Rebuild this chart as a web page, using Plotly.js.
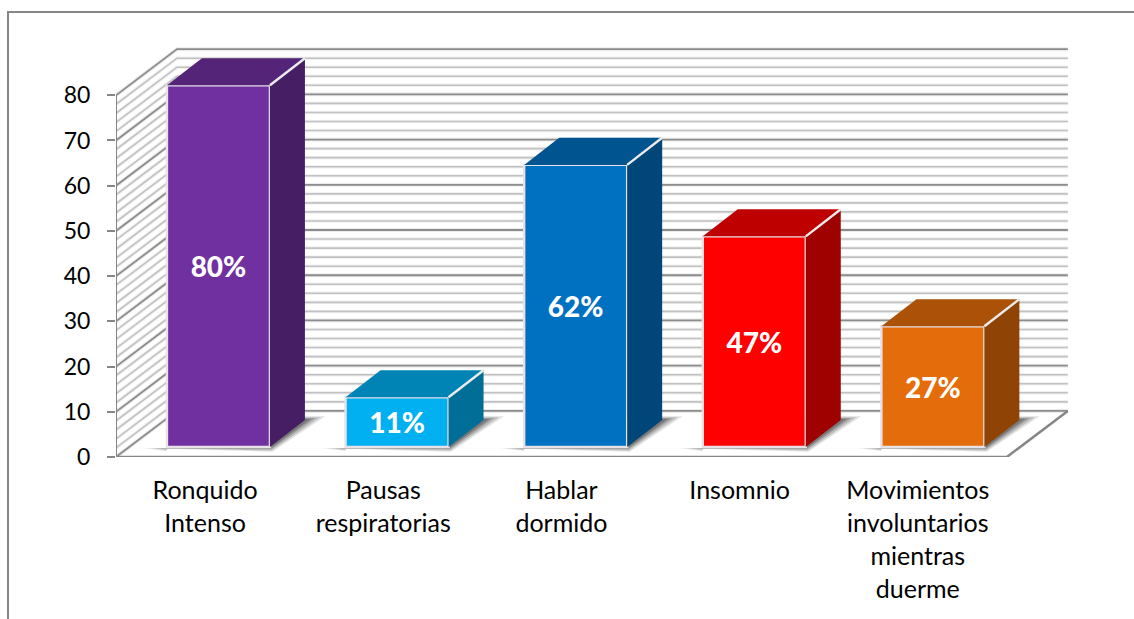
<!DOCTYPE html>
<html><head><meta charset="utf-8">
<script src="https://cdn.plot.ly/plotly-3.0.1.min.js"></script>
<style>html,body{margin:0;padding:0;background:#fff;overflow:hidden}#c{width:1134px;height:619px}</style>
</head><body><div id="c"></div>
<script>
const categories = ["Ronquido<br>Intenso","Pausas<br>respiratorias","Hablar<br>dormido","Insomnio","Movimientos<br>involuntarios<br>mientras<br>duerme"];
const values = [80, 11, 62.4, 46.6, 26.7];
const valueLabels = ["80%","11%","62%","47%","27%"];
const frontColors = ["#7030A0","#00B0F0","#0070C0","#FF0000","#E46C0A"];
const topColors   = ["#542479","#0084B5","#005490","#BF0000","#AB5108"];
const sideColors  = ["#461E64","#006E96","#004678","#9F0000","#8F4406"];
const yTicks = [0,10,20,30,40,50,60,70,80];

const W=1134,H=619,X0=116,Y0=457,mr=47,mt=41;
const xMax=5.45,yMax=92;
const plotW=W-X0-mr, plotH=Y0-mt, mb=H-Y0, ml=X0;
const PX=plotW/xMax, PY=plotH/yMax;
const wallDX=61/PX, wallDY=10.2;
const barDX=35/PX, barDY=6, barBase=2.2, barW=0.578, barStart=0.575, barPitch=1.0025;
const gridColor="#868686", minorColor="#c2c2c2";

function path(pts,close){return pts.map((p,i)=>(i?'L':'M')+p[0]+','+p[1]).join(' ')+(close?' Z':'');}
function pxX(px){return (px-X0)/plotW;}
function pxY(px){return (Y0-px)/plotH;}

const shapes=[];
let major='',minor='';
for(let v=0;v<=80;v+=2){
  const s=path([[0,v],[wallDX,v+wallDY],[5+wallDX,v+wallDY]]);
  if(v%10===0) major+=s+' '; else minor+=s+' ';
}
const gl=(p,c,w)=>shapes.push({type:'path',xref:'x',yref:'y',layer:'below',path:p,line:{color:c,width:w}});
gl(minor,'#f1f1f1',3.5); gl(major,'#ececec',4);
gl(minor,minorColor,1.6); gl(major,'#8c8c8c',1.8);

const centers=values.map((_,i)=>barStart+i*barPitch);
centers.forEach(c=>{
  const l=c-barW/2,r=c+barW/2,b=barBase;
  [[1,0.14],[0.75,0.2],[0.5,0.26],[0.28,0.32]].forEach(([g,o])=>{
    const ex=g*24/PX, ey=g*4.6/PY;
    shapes.push({type:'path',xref:'x',yref:'y',layer:'below',line:{width:0},fillcolor:'rgba(50,50,50,'+o+')',
      path:path([[l-ex,b-0.2],[l,b-0.9*g],[l,b+3.2*g],[l+barDX,b+barDY+g],[r+barDX+ex*0.85,b+barDY+g*0.8],[r+ex*0.1,b-ey]],true)});
  });
});
shapes.push({type:'path',xref:'paper',yref:'paper',layer:'below',line:{color:gridColor,width:2},
  path:path([[pxX(8),pxY(620)],[pxX(8),pxY(12)],[pxX(1135),pxY(12)]])});

const traces=[];
traces.push({type:'scatter',mode:'lines',x:[0,0],y:[yTicks[yTicks.length-1],0],line:{color:gridColor,width:2},hoverinfo:'skip',cliponaxis:false});
traces.push({type:'scatter',mode:'lines',x:[0,5,5+wallDX],y:[0,0,wallDY],line:{color:gridColor,width:2.5},hoverinfo:'skip',cliponaxis:false});
traces.push({type:'bar',x:centers,y:values,base:values.map(()=>barBase),width:barW,
  marker:{color:frontColors,line:{color:'#e6e2e8',width:2.4}},
  text:valueLabels,textposition:'inside',insidetextanchor:'middle',textangle:0,constraintext:'none',
  textfont:{family:'Lato',size:28,color:'#fff',weight:900},hoverinfo:'skip'});
values.forEach((v,i)=>{
  const l=centers[i]-barW/2,r=centers[i]+barW/2,b=barBase,t=barBase+v;
  const poly=(pts,c)=>traces.push({type:'scatter',mode:'lines',x:pts.map(p=>p[0]).concat(pts[0][0]),y:pts.map(p=>p[1]).concat(pts[0][1]),
    fill:'toself',fillcolor:c,line:{width:0,color:c},hoverinfo:'skip'});
  poly([[l,t],[r,t],[r+barDX,t+barDY],[l+barDX,t+barDY]],topColors[i]);
  poly([[r,b],[r+barDX,b+barDY],[r+barDX,t+barDY],[r,t]],sideColors[i]);
  traces.push({type:'scatter',mode:'lines',x:[r,r+barDX],y:[t,t+barDY],line:{color:'#ececec',width:2.4},hoverinfo:'skip'});
});

const sz=(s)=>'<span style="font-size:'+s+'px">';
const tickText=categories.map(c=>c.split('<br>').map(t=>sz(25)+t+'</span>').join('<br>'));

Plotly.newPlot('c',traces,{
  width:W,height:H,showlegend:false,paper_bgcolor:'#fff',plot_bgcolor:'rgba(0,0,0,0)',
  margin:{l:ml,r:mr,t:mt,b:mb,pad:0},
  font:{family:'Lato',color:'#000'},
  xaxis:{range:[0,xMax],tickmode:'array',tickvals:categories.map((_,i)=>i+0.5),ticktext:tickText,
    showgrid:false,zeroline:false,showline:false,ticks:'',ticklabelstandoff:16,tickangle:0,
    tickfont:{family:'Lato',size:25.4,color:'#000'}},
  yaxis:{range:[0,yMax],tickmode:'array',tickvals:yTicks,ticktext:yTicks.map(String),
    showgrid:false,zeroline:false,showline:false,ticks:'outside',ticklen:8,tickwidth:2,tickcolor:gridColor,
    ticklabelstandoff:12,tickfont:{family:'Lato',size:23,color:'#000'}},
  shapes:shapes
},{displayModeBar:false,staticPlot:true});
</script></body></html>
